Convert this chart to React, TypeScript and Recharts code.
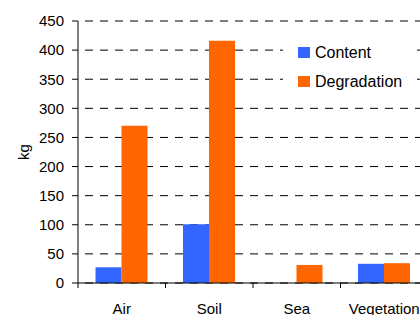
import React from 'react';
import { BarChart, Bar, XAxis, YAxis, CartesianGrid, Legend } from 'recharts';

const categories = ['Air', 'Soil', 'Sea', 'Vegetation'];
const contentValues = [27, 101, 0, 33];
const degradationValues = [270, 416, 31, 34];
const yTicks = [0, 50, 100, 150, 200, 250, 300, 350, 400, 450];
const seriesNames = ['Content', 'Degradation'];
const seriesColors = ['#3366FF', '#FF6600'];

const data = categories.map((c, i) => ({
  name: c,
  content: contentValues[i],
  degradation: degradationValues[i],
}));

const FONT = '"Liberation Sans", Arial, Helvetica, sans-serif';
const X_TICK_SIZE = 5;
const X_TICK_MARGIN = 15;

const XTick = (props: any) => {
  const { x, y, payload } = props;
  const half = payload && typeof payload.offset === 'number' && payload.offset > 0 ? payload.offset : 43.75;
  const axisY = y - X_TICK_SIZE - X_TICK_MARGIN;
  return (
    <g>
      <line x1={x - half} x2={x - half} y1={axisY} y2={axisY + X_TICK_SIZE} stroke="#000" strokeWidth={1} />
      <text x={x} y={y} dy="0.71em" textAnchor="middle" fill="#000" fontSize={15} fontFamily={FONT}>
        {payload.value}
      </text>
    </g>
  );
};

const LegendBox = (props: any) => {
  const payload = props.payload || [];
  return (
    <div style={{ background: '#fff', width: 134, height: 58, paddingLeft: 15, paddingTop: 0, boxSizing: 'border-box' }}>
      {payload.map((p: any, i: number) => (
        <div key={i} style={{ display: 'flex', alignItems: 'center', height: 29, fontFamily: FONT, fontSize: 16, color: '#000' }}>
          <span style={{ display: 'inline-block', width: 12, height: 11, background: p.color, marginRight: 5 }} />
          <span>{p.value}</span>
        </div>
      ))}
    </div>
  );
};

const YLabel = (props: any) => {
  const vb = props.viewBox || { x: 0, y: 20, width: 78, height: 263 };
  const cx = vb.x + 23;
  const cy = vb.y + vb.height / 2;
  return (
    <text x={cx} y={cy} transform={`rotate(-90 ${cx} ${cy})`} textAnchor="middle" dominantBaseline="central" fontSize={15} fontFamily={FONT} fill="#000">
      kg
    </text>
  );
};

export default function App() {
  return (
    <div style={{ position: 'absolute', left: 0, top: 0, width: 420, height: 315, overflow: 'hidden', background: '#fff' }}>
      <BarChart
        width={440}
        height={315}
        data={data}
        margin={{ top: 21, right: 12, bottom: 0, left: 0 }}
        barCategoryGap="20%"
        barGap={0}
      >
        <CartesianGrid vertical={false} stroke="#000" strokeDasharray="0 7 8 0" />
        <XAxis
          dataKey="name"
          height={32}
          axisLine={{ stroke: '#000' }}
          tickLine={false}
          tickSize={X_TICK_SIZE}
          tickMargin={X_TICK_MARGIN}
          tick={<XTick />}
          interval={0}
        />
        <YAxis
          width={78}
          domain={[0, 450]}
          ticks={yTicks}
          interval={0}
          axisLine={{ stroke: '#000' }}
          tickLine={{ stroke: '#000' }}
          tickSize={6}
          tickMargin={8}
          tick={{ fill: '#000', fontSize: 15, fontFamily: FONT }}
          label={<YLabel />}
        />
        <Legend
          layout="vertical"
          verticalAlign="middle"
          align="center"
          content={<LegendBox />}
          wrapperStyle={{ position: 'absolute', left: 283, top: 38, width: 134, height: 58 }}
        />
        <Bar dataKey="content" name={seriesNames[0]} fill={seriesColors[0]} isAnimationActive={false} />
        <Bar dataKey="degradation" name={seriesNames[1]} fill={seriesColors[1]} isAnimationActive={false} />
      </BarChart>
    </div>
  );
}
